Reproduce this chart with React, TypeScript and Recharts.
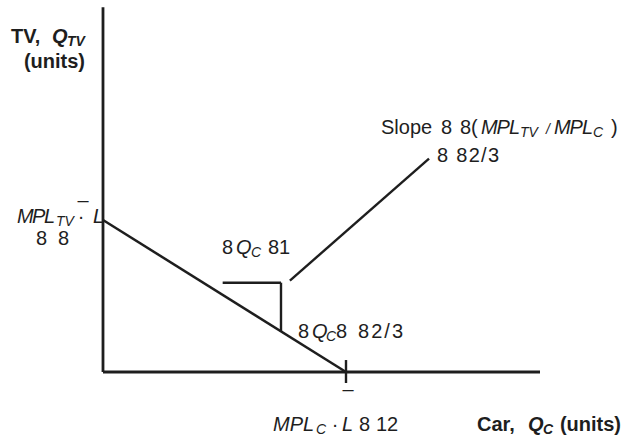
import React from "react";
import { ComposedChart, Line, XAxis, YAxis } from "recharts";

// Data (in chart units)
const budgetLine = [
  { x: 0, y: 8 },
  { x: 12, y: 0 },
];
const stepRun = [
  { x: 5.91, y: 4.7 },
  { x: 8.79, y: 4.7 },
];
const stepRise = [
  { x: 8.79, y: 4.7 },
  { x: 8.79, y: 2.14 },
];
const pointer = [
  { x: 9.23, y: 4.81 },
  { x: 16.1, y: 11.23 },
];
const yAxisLine = [
  { x: 0, y: 0 },
  { x: 0, y: 19.2 },
];
const xAxisLine = [
  { x: 0, y: 0 },
  { x: 21.58, y: 0 },
];
const interceptTick = [
  { x: 12, y: 0.63 },
  { x: 12, y: -0.58 },
];

const X_DOMAIN: [number, number] = [-5.086, 25.728];
const Y_DOMAIN: [number, number] = [-3.737, 19.579];

const W = 624;
const H = 443;
const FONT = '"Liberation Sans", Arial, Helvetica, sans-serif';
const INK = "#1e1e1e";
const FS = 20;
const SUB = 14;

type TProps = {
  x: number;
  y: number;
  s?: number;
  b?: boolean;
  i?: boolean;
  len?: number;
  anchor?: "start" | "middle" | "end";
  children: React.ReactNode;
};
const T = ({ x, y, s = FS, b = false, i = false, len, anchor = "start", children }: TProps) => (
  <text
    x={x}
    y={y}
    fontSize={s}
    fontWeight={b ? "bold" : "normal"}
    fontStyle={i ? "italic" : "normal"}
    textAnchor={anchor}
    fontFamily={FONT}
    fill={INK}
    {...(len ? { textLength: len, lengthAdjust: "spacing" } : {})}
  >
    {children}
  </text>
);

export default function App() {
  const lineProps = {
    type: "linear" as const,
    dataKey: "y",
    dot: false,
    activeDot: false,
    isAnimationActive: false,
    stroke: INK,
    legendType: "none" as const,
  };
  return (
    <div style={{ position: "absolute", left: 0, top: 0, width: W, height: H, background: "#fff" }}>
      <ComposedChart width={W} height={H} margin={{ top: 0, right: 0, bottom: 0, left: 0 }}>
        <XAxis type="number" dataKey="x" domain={X_DOMAIN} hide allowDataOverflow />
        <YAxis type="number" domain={Y_DOMAIN} hide allowDataOverflow />
        <Line {...lineProps} data={yAxisLine} strokeWidth={2.8} />
        <Line {...lineProps} data={xAxisLine} strokeWidth={2.8} />
        <Line {...lineProps} data={budgetLine} strokeWidth={2.5} />
        <Line {...lineProps} data={stepRun} strokeWidth={2.4} />
        <Line {...lineProps} data={stepRise} strokeWidth={2.4} />
        <Line {...lineProps} data={pointer} strokeWidth={2.4} />
        <Line {...lineProps} data={interceptTick} strokeWidth={2.4} />
      </ComposedChart>
      <svg
        width={W}
        height={H}
        style={{ position: "absolute", left: 0, top: 0, pointerEvents: "none" }}
      >
        {/* Y axis title */}
        <T x={11} y={43} b>TV,</T>
        <T x={52} y={43} b i>Q</T>
        <T x={67} y={46} s={SUB} b i>TV</T>
        <T x={85} y={68} b anchor="end">(units)</T>

        {/* Y intercept label */}
        <T x={83} y={207} anchor="middle">–</T>
        <T x={17} y={223} i len={38}>MPL</T>
        <T x={56} y={226} s={SUB} i>TV</T>
        <T x={81} y={223} anchor="middle">·</T>
        <T x={93} y={223} i>L</T>
        <T x={36} y={245} len={33}>8 8</T>

        {/* Delta Qc = 1 */}
        <T x={222} y={254}>8</T>
        <T x={236} y={254} i>Q</T>
        <T x={251} y={257} s={SUB} i>C</T>
        <T x={268} y={254}>81</T>

        {/* Delta Qtv = -2/3 */}
        <T x={298} y={338}>8</T>
        <T x={312} y={338} i>Q</T>
        <T x={326} y={341} s={SUB} i>C</T>
        <T x={336} y={338}>8</T>
        <T x={358} y={338} len={45}>82/3</T>

        {/* Slope label */}
        <T x={381} y={134}>Slope</T>
        <T x={441} y={134}>8</T>
        <T x={460} y={134}>8(</T>
        <T x={481} y={134} i len={39}>MPL</T>
        <T x={520} y={137} s={SUB} i>TV</T>
        <T x={546} y={134} s={SUB} i>/</T>
        <T x={554} y={134} i len={39}>MPL</T>
        <T x={593} y={137} s={SUB} i>C</T>
        <T x={611} y={134}>)</T>
        <T x={437} y={162} len={62}>8 82/3</T>

        {/* X intercept */}
        <T x={348} y={396} anchor="middle">–</T>
        <T x={273} y={431} i>MPL</T>
        <T x={316} y={434} s={SUB} i>C</T>
        <T x={335} y={431} anchor="middle">·</T>
        <T x={342} y={431} i>L</T>
        <T x={359} y={431}>8</T>
        <T x={376} y={431}>12</T>

        {/* X axis title */}
        <T x={477} y={431} b>Car,</T>
        <T x={528} y={431} b i>Q</T>
        <T x={543} y={434} s={SUB} b i>C</T>
        <T x={621} y={431} b anchor="end">(units)</T>
      </svg>
    </div>
  );
}
